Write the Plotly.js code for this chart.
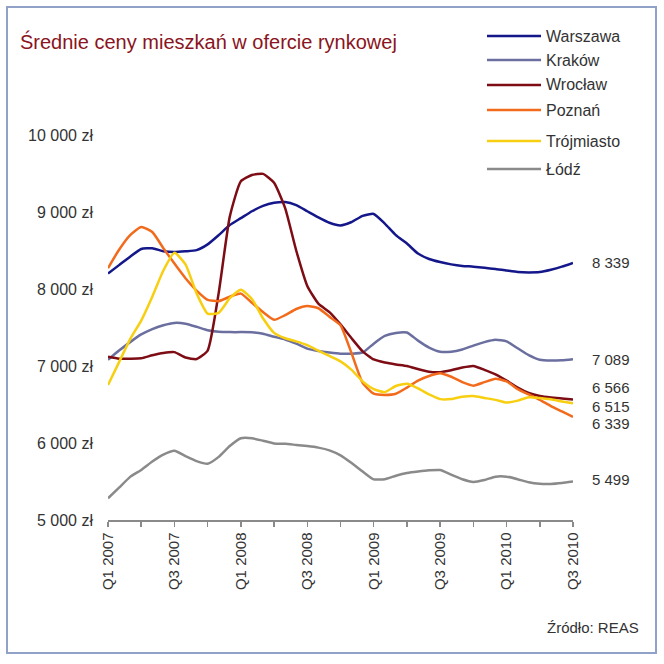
<!DOCTYPE html>
<html><head><meta charset="utf-8">
<script src="https://cdn.plot.ly/plotly-3.0.1.min.js"></script>
<style>html,body{margin:0;padding:0;background:#fff}#chart{width:664px;height:664px}</style>
</head><body><div id="chart"></div>
<script>
const months = ["2007-01","2007-02","2007-03","2007-04","2007-05","2007-06","2007-07","2007-08","2007-09","2007-10","2007-11","2007-12",
"2008-01","2008-02","2008-03","2008-04","2008-05","2008-06","2008-07","2008-08","2008-09","2008-10","2008-11","2008-12",
"2009-01","2009-02","2009-03","2009-04","2009-05","2009-06","2009-07","2009-08","2009-09","2009-10","2009-11","2009-12",
"2010-01","2010-02","2010-03","2010-04","2010-05","2010-06","2010-07"];

const warszawa = [8200,8310,8420,8520,8530,8490,8480,8490,8505,8580,8700,8830,
8920,9010,9080,9120,9130,9090,9010,8930,8860,8825,8870,8950,
8975,8850,8700,8590,8460,8390,8350,8320,8300,8290,8275,8260,
8240,8220,8215,8220,8250,8290,8339];
const krakow = [7080,7200,7310,7410,7480,7530,7560,7550,7510,7465,7445,7440,
7440,7438,7420,7380,7345,7290,7225,7195,7175,7160,7160,7175,
7290,7390,7430,7435,7330,7240,7186,7186,7215,7265,7310,7340,
7320,7230,7140,7080,7070,7075,7089];
const wroclaw = [7120,7095,7095,7100,7140,7170,7180,7110,7090,7200,7950,8940,
9400,9480,9495,9380,9050,8500,8040,7810,7700,7540,7360,7190,
7085,7045,7020,7000,6960,6925,6920,6945,6980,7000,6950,6890,
6810,6720,6650,6610,6590,6578,6566];
const poznan = [8270,8510,8700,8805,8740,8530,8330,8140,7980,7860,7842,7900,
7940,7820,7700,7600,7660,7740,7780,7750,7640,7530,7165,6780,
6640,6625,6640,6720,6810,6870,6905,6860,6790,6745,6790,6835,
6800,6700,6630,6560,6480,6410,6339];
const trojmiasto = [6753,7050,7350,7590,7900,8240,8470,8320,7944,7680,7690,7880,
7990,7870,7620,7430,7360,7320,7270,7200,7130,7060,6950,6800,
6700,6660,6740,6770,6710,6630,6570,6570,6600,6610,6585,6560,
6525,6550,6595,6585,6567,6540,6515];
const lodz = [5282,5420,5560,5650,5760,5850,5900,5830,5765,5730,5820,5960,
6061,6061,6030,5995,5990,5975,5960,5940,5905,5840,5740,5630,
5528,5530,5575,5610,5630,5645,5649,5590,5530,5495,5520,5563,
5563,5530,5490,5470,5468,5480,5499];

const seriesNames = ["Warszawa","Kraków","Wrocław","Poznań","Trójmiasto","Łódź"];
const seriesData = [warszawa, krakow, wroclaw, poznan, trojmiasto, lodz];
const seriesColors = ["#14178a","#6b6f9f","#7d0c14","#f26b1d","#f7cf10","#8a8a8a"];
const endLabels = ["8 339","7 089","6 566","6 339","6 515","5 499"];
const endShift = [0, 0, 11.5, -7, -3, 2];

const xTickVals = ["2007-01","2007-04","2007-07","2007-10","2008-01","2008-04","2008-07","2008-10","2009-01","2009-04","2009-07","2009-10","2010-01","2010-04","2010-07"];
const xTickText = ["Q1 2007","","Q3 2007","","Q1 2008","","Q3 2008","","Q1 2009","","Q3 2009","","Q1 2010","","Q3 2010"];
const yTickVals = [5000,6000,7000,8000,9000,10000];
const yTickText = ["5 000 zł","6 000 zł","7 000 zł","8 000 zł","9 000 zł","10 000 zł"];

// plot-area geometry (pixels) for paper conversion of decorations
const PL = 108, PR = 573, PT = 135, PB = 520;
const px = x => (x - PL) / (PR - PL);
const py = y => (PB - y) / (PB - PT);
const FONT = "Liberation Sans, Arial, sans-serif";

const traces = seriesNames.map((n, i) => ({
  type: "scatter", mode: "lines", name: n, x: months, y: seriesData[i],
  line: {color: seriesColors[i], width: 2.5, shape: "spline", smoothing: 0.5},
  showlegend: false, hoverinfo: "x+y+name"
}));

const legendY = [36, 60, 85, 110, 141, 169];
const shapes = [{type: "rect", xref: "paper", yref: "paper",
  x0: px(7), x1: px(656), y0: py(653), y1: py(7),
  line: {color: "#90a2c8", width: 2}, fillcolor: "rgba(0,0,0,0)", layer: "below"}];
const annotations = [];
seriesNames.forEach((n, i) => {
  shapes.push({type: "line", xref: "paper", yref: "paper",
    x0: px(487), x1: px(541), y0: py(legendY[i]), y1: py(legendY[i]),
    line: {color: seriesColors[i], width: 2.5}});
  annotations.push({xref: "paper", yref: "paper", x: px(544), y: py(legendY[i]),
    xanchor: "left", yanchor: "middle", showarrow: false, text: n,
    font: {family: FONT, size: 16, color: "#333"}});
  const d = seriesData[i];
  annotations.push({xref: "x", yref: "y", x: months.length - 1, y: d[d.length - 1],
    xanchor: "left", yanchor: "middle", xshift: 17, yshift: endShift[i], showarrow: false,
    text: endLabels[i], font: {family: FONT, size: 15, color: "#333"}});
});
annotations.push({xref: "paper", yref: "paper", x: px(641), y: py(627),
  xanchor: "right", yanchor: "middle", showarrow: false, text: "Źródło: REAS",
  font: {family: FONT, size: 15, color: "#333"}});

const layout = {
  width: 664, height: 664,
  paper_bgcolor: "#fff", plot_bgcolor: "#fff",
  margin: {l: PL, r: 664 - PR, t: PT, b: 664 - PB, pad: 0},
  font: {family: FONT, color: "#333"},
  title: {text: "Średnie ceny mieszkań w ofercie rynkowej", xref: "container", yref: "container",
    x: 20 / 664, xanchor: "left", y: 1 - 42 / 664, yanchor: "middle",
    font: {family: FONT, size: 20, color: "#8a1420"}},
  xaxis: {type: "category", range: [0, months.length - 1], showgrid: false, zeroline: false,
    showline: true, linecolor: "#8a8a8a", linewidth: 1.5,
    ticks: "outside", ticklen: 5, tickwidth: 1.5, tickcolor: "#8a8a8a",
    tickmode: "array", tickvals: xTickVals, ticktext: xTickText, tickangle: -90,
    tickfont: {size: 15, color: "#333"}},
  yaxis: {range: [5000, 10000], showgrid: false, zeroline: false, showline: false,
    ticks: "", tickmode: "array", tickvals: yTickVals, ticktext: yTickText,
    ticklabelstandoff: 14, tickfont: {size: 16, color: "#333"}},
  shapes: shapes, annotations: annotations, showlegend: false
};

Plotly.newPlot("chart", traces, layout, {displayModeBar: false, staticPlot: true});
</script></body></html>
